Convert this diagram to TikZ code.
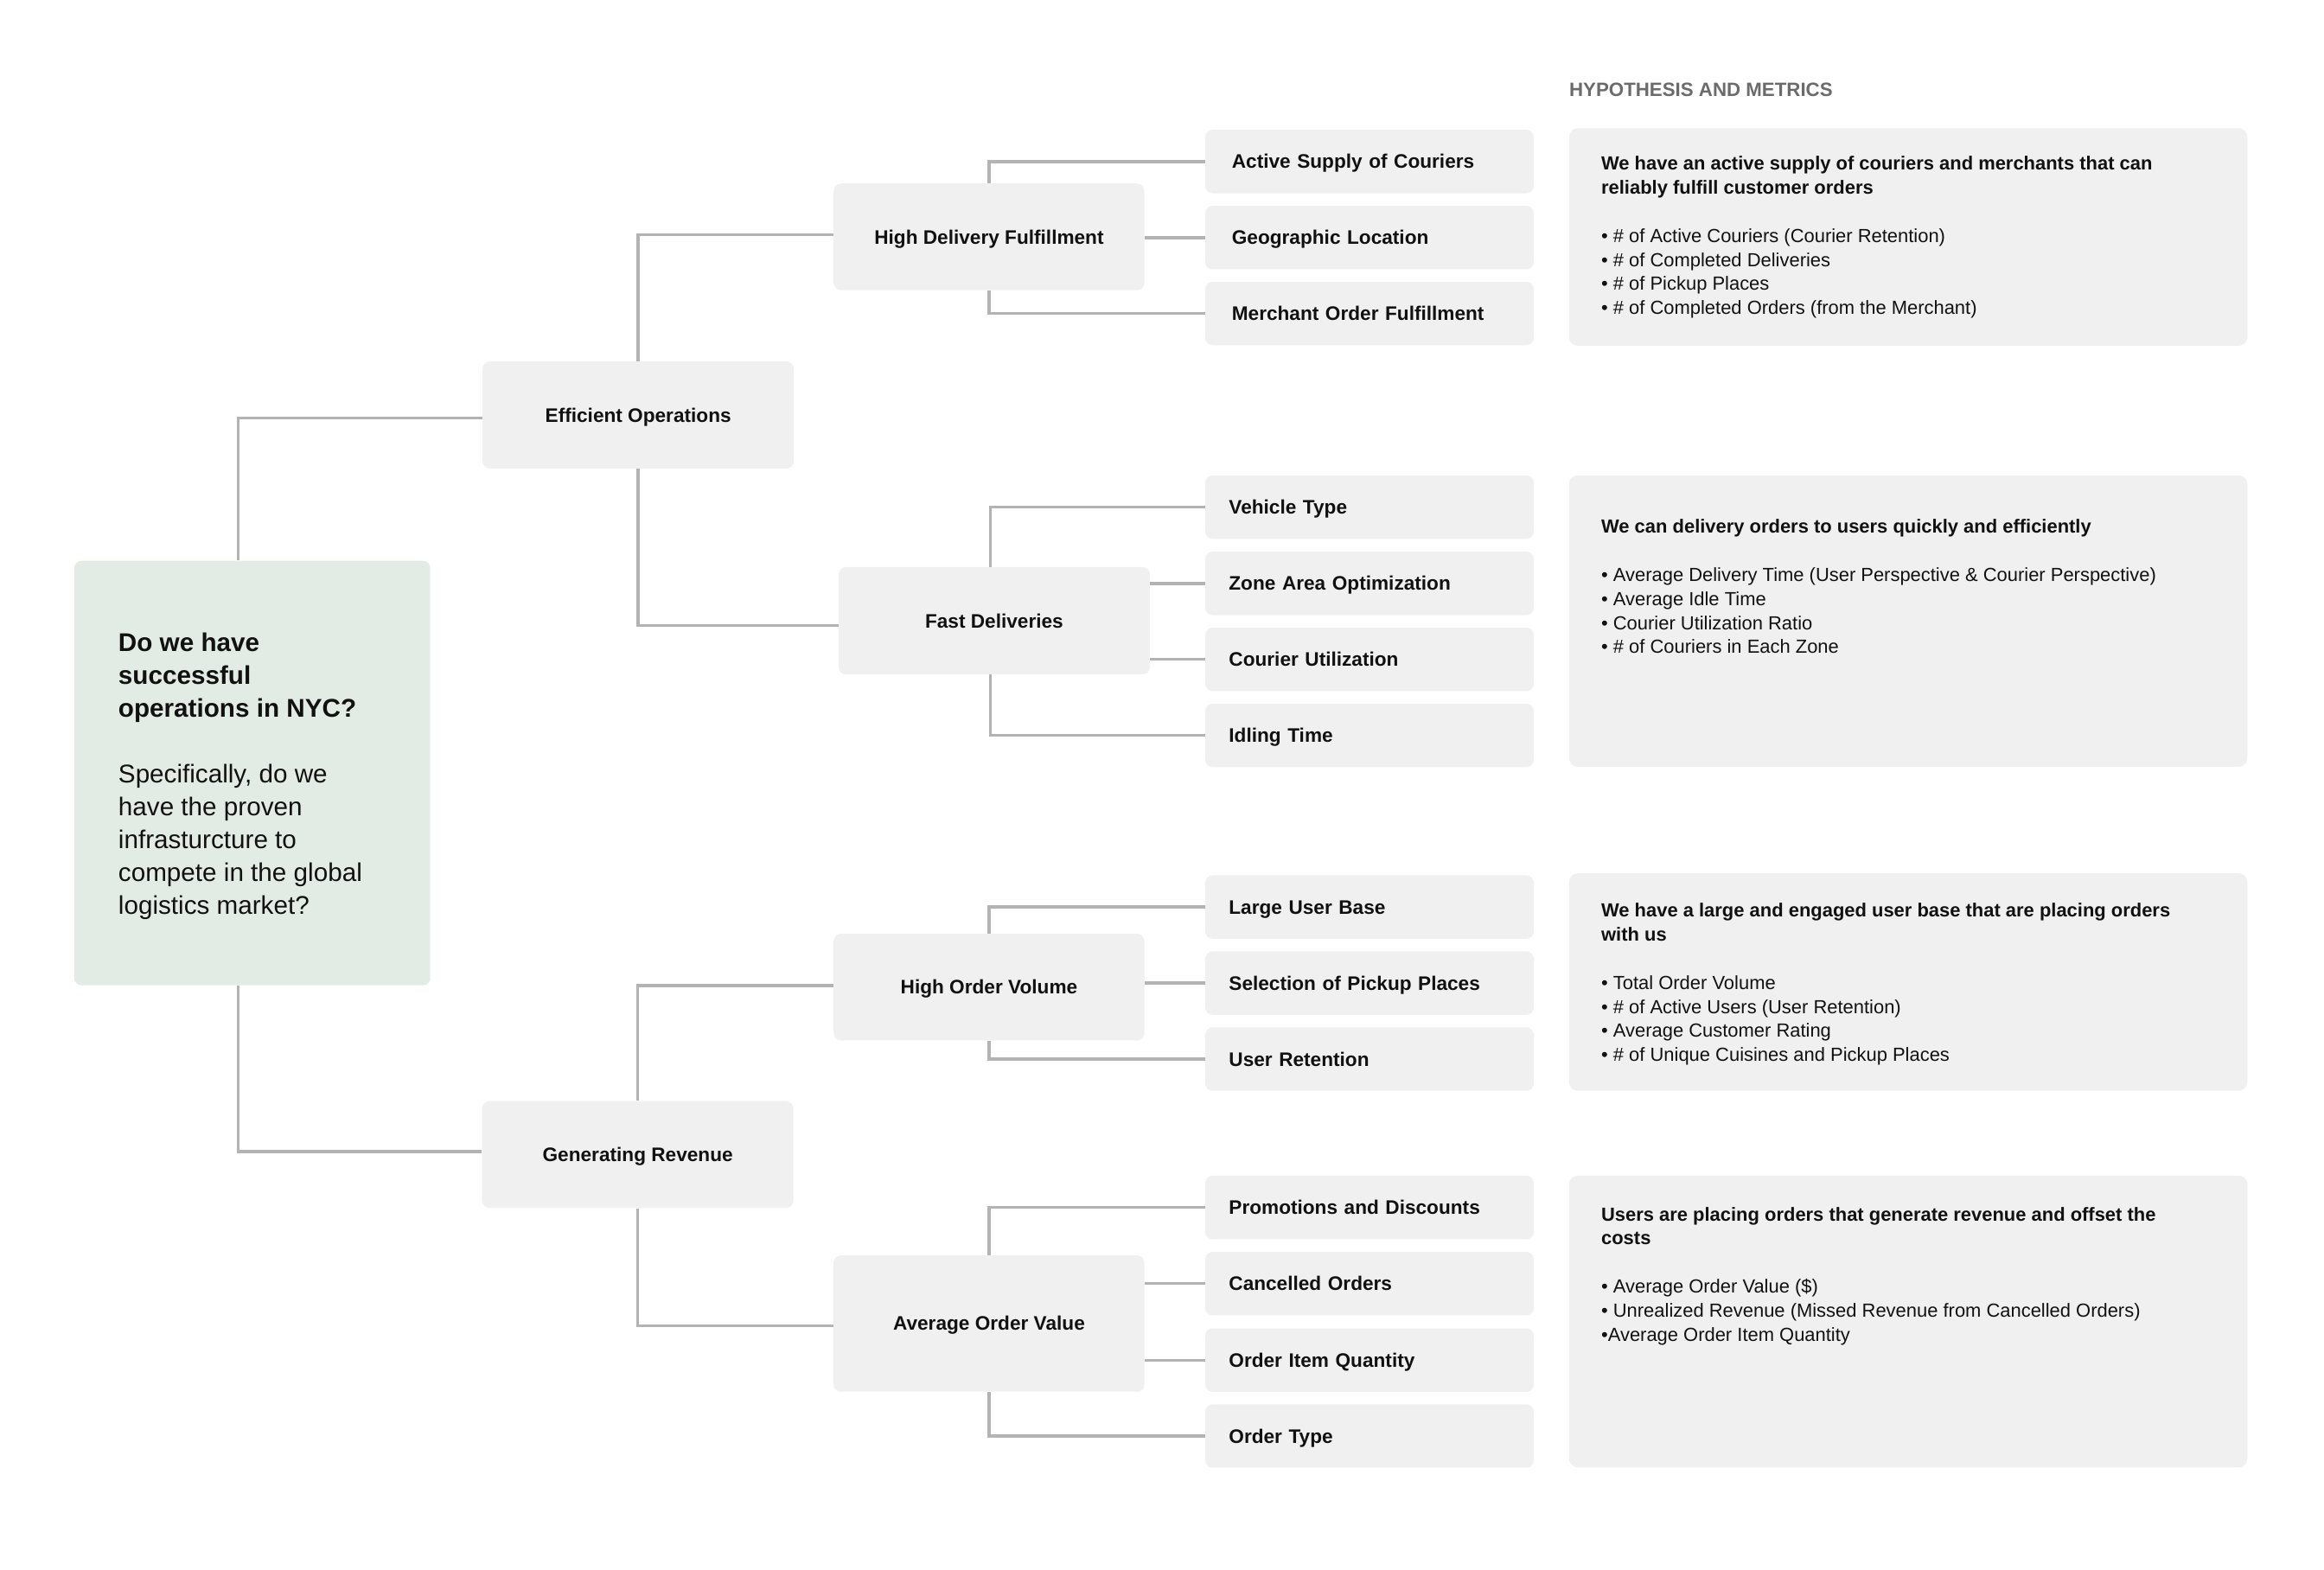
\documentclass[tikz,border=0pt]{standalone}
\usepackage{fontspec}
\setmainfont{Liberation Sans}
\definecolor{boxgray}{HTML}{F0F0F0}
\definecolor{rootgreen}{HTML}{E3ECE4}
\definecolor{linegray}{HTML}{B3B3B3}
\definecolor{headgray}{HTML}{6B6B6B}
\definecolor{ink}{HTML}{111111}
\begin{document}
\begin{tikzpicture}[x=1pt,y=-1pt,
  conn/.style={draw=linegray, line width=2pt},
  boxbase/.style={fill=boxgray, draw=none, rounded corners=5pt, inner sep=0pt, text=ink},
  midbox/.style={boxbase, minimum width=210pt, minimum height=72pt,
    font=\bfseries\fontsize{13.2}{16}\selectfont, text height=9.4pt, text depth=0pt, align=center},
  leafbox/.style={boxbase, minimum width=221.7pt, minimum height=42.8pt,
    text width=189.7pt, inner xsep=16pt, inner ysep=0pt, align=left,
    font=\bfseries\fontsize{13.2}{16}\selectfont, text height=9.4pt, text depth=0pt},
  leafboxa/.style={leafbox, text width=185.7pt, inner xsep=18pt},
  panel/.style={fill=boxgray, draw=none, rounded corners=6pt, minimum width=457.7pt, inner sep=0pt},
  ptext/.style={anchor=north west, inner sep=0pt, align=left, text=ink,
    font=\fontsize{12.8}{16.3}\selectfont},
]
\useasboundingbox[fill=white] (0,0) rectangle (1568,1059.3);

% root question
\node[fill=rootgreen, draw=none, rounded corners=5pt, inner sep=0pt,
  minimum width=240.3pt, minimum height=286.4pt] (root) at (170.2,521.6) {};
\node[anchor=north west, inner sep=0pt, align=left, text=ink,
  font=\fontsize{17.3}{22.2}\selectfont] (qtext) at (79.7,426.6)
  {\textbf{Do we have}\\\textbf{successful}\\\textbf{operations in NYC?}\\[22.2pt]
   Specifically, do we\\have the proven\\infrasturcture to\\compete in the global\\logistics market?};

% second level
\node[midbox, minimum height=72.3pt] (eo) at (430.6,280.0) {Efficient Operations};
\node[midbox] (gr) at (430.3,779.0) {Generating Revenue};

% third level
\node[midbox, minimum width=209.7pt] (hdf) at (667.3,159.8) {High Delivery Fulfillment};
\node[midbox, minimum height=72.3pt] (fd) at (670.8,418.8) {Fast Deliveries};
\node[midbox, minimum width=209.7pt] (hov) at (667.3,666.0) {High Order Volume};
\node[midbox, minimum width=209.7pt, minimum height=92pt] (aov) at (667.3,893.0) {Average Order Value};

% leaves
\node[leafboxa] (l11) at (924,109.0) {Active Supply of Couriers};
\node[leafboxa] (l12) at (924,160.3) {Geographic Location};
\node[leafboxa] (l13) at (924,211.5) {Merchant Order Fulfillment};

\node[leafbox] (l21) at (924,342.2) {Vehicle Type};
\node[leafbox] (l22) at (924,393.7) {Zone Area Optimization};
\node[leafbox] (l23) at (924,444.9) {Courier Utilization};
\node[leafbox] (l24) at (924,496.2) {Idling Time};

\node[leafbox] (l31) at (924,612.0) {Large User Base};
\node[leafbox] (l32) at (924,663.3) {Selection of Pickup Places};
\node[leafbox] (l33) at (924,714.6) {User Retention};

\node[leafbox] (l41) at (924,814.7) {Promotions and Discounts};
\node[leafbox] (l42) at (924,866.1) {Cancelled Orders};
\node[leafbox] (l43) at (924,917.7) {Order Item Quantity};
\node[leafbox] (l44) at (924,968.9) {Order Type};

% connectors
\draw[conn] ([xshift=-9.4pt]root.north) |- ([yshift=-2pt]eo.west);
\draw[conn] ([xshift=-9.4pt]root.south) |- ([yshift=2pt]gr.west);
\draw[conn] (eo.north) |- ([yshift=1.3pt]hdf.west);
\draw[conn] (eo.south) |- ([yshift=-3.1pt]fd.west);
\draw[conn] (gr.north) |- ([yshift=1.1pt]hov.west);
\draw[conn] (gr.south) |- ([yshift=-1.6pt]aov.west);

\draw[conn] (hdf.north) |- (l11.west);
\draw[conn] (hdf.east |- l12.west) -- (l12.west);
\draw[conn] (hdf.south) |- (l13.west);

\draw[conn] ([xshift=-2.5pt]fd.north) |- (l21.west);
\draw[conn] (fd.east |- l22.west) -- (l22.west);
\draw[conn] (fd.east |- l23.west) -- (l23.west);
\draw[conn] ([xshift=-2.5pt]fd.south) |- (l24.west);

\draw[conn] (hov.north) |- (l31.west);
\draw[conn] (hov.east |- l32.west) -- (l32.west);
\draw[conn] (hov.south) |- (l33.west);

\draw[conn] (aov.north) |- (l41.west);
\draw[conn] (aov.east |- l42.west) -- (l42.west);
\draw[conn] (aov.east |- l43.west) -- (l43.west);
\draw[conn] (aov.south) |- (l44.west);

% hypothesis panels
\node[anchor=base west, inner sep=0pt, text=headgray,
  font=\bfseries\fontsize{13}{16}\selectfont] (hm) at (1058.6,65.2) {HYPOTHESIS AND METRICS};

\node[panel, minimum height=146.8pt] (p1) at (1287.45,159.9) {};
\node[panel, minimum height=196.6pt] (p2) at (1287.45,419.1) {};
\node[panel, minimum height=146.8pt] (p3) at (1287.45,662.6) {};
\node[panel, minimum height=196.8pt] (p4) at (1287.45,891.7) {};

\node[ptext] (p1t) at (1080.2,105.0)
  {\textbf{We have an active supply of couriers and merchants that can}\\
   \textbf{reliably fulfill customer orders}\\[16.3pt]
   • \# of Active Couriers (Courier Retention)\\
   • \# of Completed Deliveries\\
   • \# of Pickup Places\\
   • \# of Completed Orders (from the Merchant)};

\node[ptext] (p2t) at (1080.2,350.0)
  {\textbf{We can delivery orders to users quickly and efficiently}\\[16.3pt]
   • Average Delivery Time (User Perspective \& Courier Perspective)\\
   • Average Idle Time\\
   • Courier Utilization Ratio\\
   • \# of Couriers in Each Zone};

\node[ptext] (p3t) at (1080.2,609.0)
  {\textbf{We have a large and engaged user base that are placing orders}\\
   \textbf{with us}\\[16.3pt]
   • Total Order Volume\\
   • \# of Active Users (User Retention)\\
   • Average Customer Rating\\
   • \# of Unique Cuisines and Pickup Places};

\node[ptext] (p4t) at (1080.2,814.2)
  {\textbf{Users are placing orders that generate revenue and offset the}\\
   \textbf{costs}\\[16.3pt]
   • Average Order Value (\$)\\
   • Unrealized Revenue (Missed Revenue from Cancelled Orders)\\
   •Average Order Item Quantity};
\end{tikzpicture}
\end{document}
